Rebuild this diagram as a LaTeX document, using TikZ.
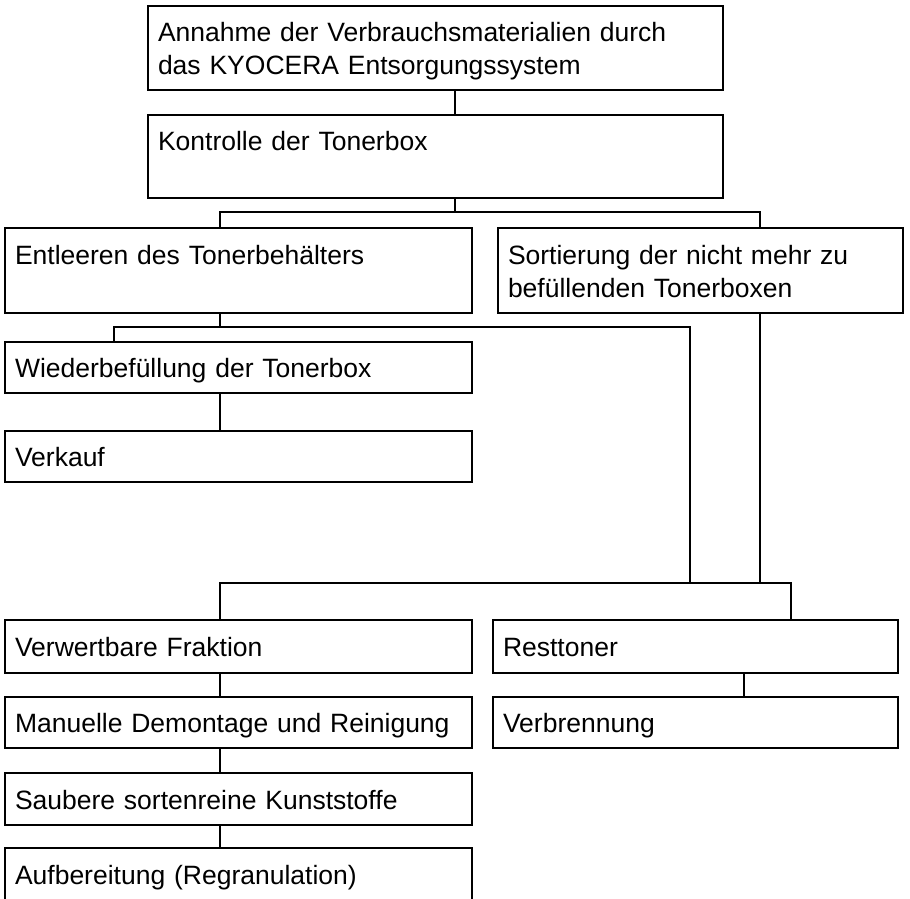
\documentclass[tikz,border=0pt]{standalone}
\usepackage{fontspec}
\setmainfont{Liberation Sans}
\tikzset{
  box/.style={draw, rectangle, line width=2.4pt, anchor=north west,
    inner xsep=10pt, inner ysep=0pt, outer sep=0pt, align=left,
    font=\fontsize{26.5pt}{33pt}\selectfont,
    execute at begin node=\rule{0pt}{27pt},
    execute at end node=\rule[-7pt]{0pt}{7pt}},
  topcol/.style={minimum width=575pt, text width=555pt},
  leftcol/.style={minimum width=467pt, text width=447pt},
  rightcol/.style={minimum width=405pt, text width=385pt},
  link/.style={draw, line width=1.8pt}
}
\begin{document}
\begin{tikzpicture}[x=1pt, y=-1pt]
\useasboundingbox (0,0) rectangle (910,898);
\clip (0,0) rectangle (910,898);

% boxes
\node[box, topcol, minimum height=84pt] (a) at (148,6)
  {Annahme der Verbrauchsmaterialien durch\\das KYOCERA Entsorgungssystem};
\node[box, topcol, minimum height=83pt] (k) at (148,115)
  {Kontrolle der Tonerbox\\};
\node[box, leftcol, minimum height=85pt] (e) at (5,228)
  {Entleeren des Tonerbehälters\\};
\node[box, rightcol, minimum height=85pt] (s) at (498,228)
  {Sortierung der nicht mehr zu\\befüllenden Tonerboxen};
\node[box, leftcol, minimum height=51pt] (w) at (5,342)
  {Wiederbefüllung der Tonerbox};
\node[box, leftcol, minimum height=51pt] (v) at (5,431)
  {Verkauf};
\node[box, leftcol, minimum height=53pt] (f) at (5,620)
  {Verwertbare Fraktion};
\node[box, rightcol, minimum height=53pt] (r) at (493,620)
  {Resttoner};
\node[box, leftcol, minimum height=51pt] (m) at (5,697)
  {Manuelle Demontage und Reinigung};
\node[box, rightcol, minimum height=51pt] (vb) at (493,697)
  {Verbrennung};
\node[box, leftcol, minimum height=52pt] (sa) at (5,773)
  {Saubere sortenreine Kunststoffe};
\node[box, leftcol, minimum height=52pt] (au) at (5,848)
  {Aufbereitung (Regranulation)};

% connector columns and junctions
\coordinate (kfork) at (455,212);
\coordinate (efork) at (220,327);
\coordinate (rfork) at (220,583);
\coordinate (colL) at (220,0);
\coordinate (colW) at (114,0);
\coordinate (colM) at (690,0);
\coordinate (colS) at (760,0);
\coordinate (colR) at (791,0);
\coordinate (colV) at (744,0);

% connectors
\draw[link] (a.south -| kfork) -- (k.north -| kfork);
\draw[link] (k.south -| kfork) -- (kfork);
\draw[link] (e.north -| colL) |- (kfork) -| (s.north -| colS);

\draw[link] (e.south -| efork) -- (efork);
\draw[link] (w.north -| colW) |- (efork) -| (colM |- rfork);
\draw[link] (w.south -| colL) -- (v.north -| colL);

\draw[link] (s.south -| colS) -- (colS |- rfork);
\draw[link] (f.north -| colL) -- (rfork) -| (r.north -| colR);

\draw[link] (f.south -| colL) -- (m.north -| colL);
\draw[link] (m.south -| colL) -- (sa.north -| colL);
\draw[link] (sa.south -| colL) -- (au.north -| colL);
\draw[link] (r.south -| colV) -- (vb.north -| colV);
\end{tikzpicture}
\end{document}
